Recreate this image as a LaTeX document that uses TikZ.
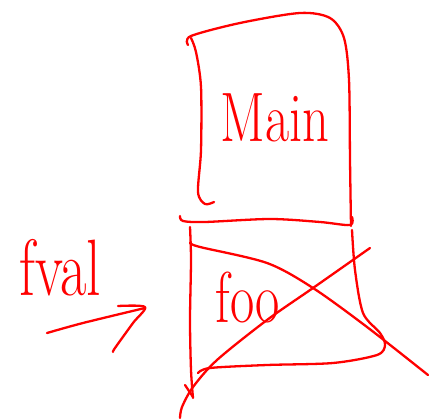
\documentclass[tikz,border=0pt]{standalone}
\begin{document}
\begin{tikzpicture}[x=1pt,y=-1pt,
  ink/.style={draw=red, line width=2.3pt, line cap=round, line join=round},
  hand/.style={text=red, inner sep=0pt}]
\useasboundingbox (0,0) rectangle (436,419);
% Main box
\draw[ink] plot[smooth] coordinates {(188,45) (191,36) (240,23) (300,13) (330,18) (344,38) (349,80) (350,160) (351,226)};
\draw[ink] plot[smooth] coordinates {(191,38) (196,52) (201,87) (201,150) (198,192) (205,204) (214,202)};
\draw[ink] plot[smooth] coordinates {(180,216) (183,221) (205,222) (270,219) (320,222) (350,225) (352,217)};
% foo box
\draw[ink] plot[smooth] coordinates {(190,227) (191,260) (190,320) (191,370) (193,398)};
\draw[ink] (185,385) -- (193,397);
\draw[ink] plot[smooth] coordinates {(190,243) (200,247) (267,263) (313,288) (367,327) (428,375)};
\draw[ink] plot[smooth] coordinates {(352,230) (355,270) (363,313) (380,333) (385,345) (377,355) (333,363) (267,365) (210,368) (198,373)};
\draw[ink] plot[smooth] coordinates {(370,248) (313,288) (267,320) (217,360) (193,387) (182,407) (180,418)};
% arrow
\draw[ink] plot[smooth] coordinates {(47,333) (83,323) (145,308)};
\draw[ink] plot[smooth] coordinates {(118,306) (145,307) (133,323) (115,348) (113,352)};
% texts
\node[hand] (main) at (275,118) {\scalebox{1.05}[1.4]{\fontsize{50}{50}\selectfont Main}};
\node[hand] (foo) at (248,298) {\scalebox{1.1}[1.5]{\fontsize{48}{48}\selectfont foo}};
\node[hand] (fval) at (60,268) {\scalebox{1.15}[1.6]{\fontsize{50}{50}\selectfont fval}};
\end{tikzpicture}
\end{document}
